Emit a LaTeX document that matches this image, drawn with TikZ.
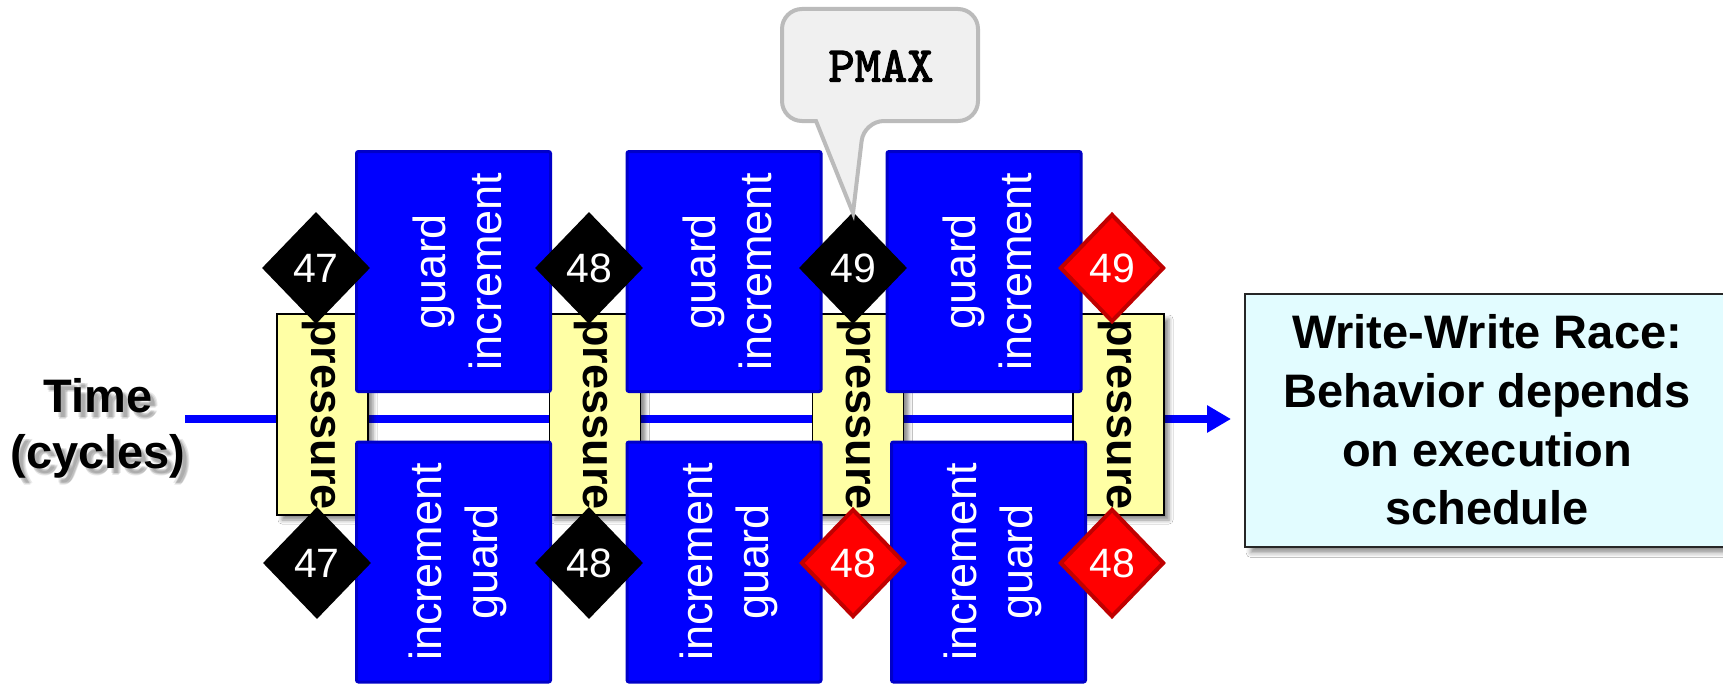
\documentclass[tikz,border=0pt]{standalone}
\usepackage{fontspec}
\setmainfont{Liberation Sans}
\newfontfamily\pmaxfont{lmmono10-regular.otf}[FakeBold=2.5]
\usetikzlibrary{shapes.geometric,arrows.meta,shadows.blur}
\definecolor{pyellow}{RGB}{255,255,165}
\definecolor{bfill}{RGB}{0,0,255}
\definecolor{bborder}{RGB}{0,0,200}
\definecolor{rfill}{RGB}{255,0,0}
\definecolor{rborder}{RGB}{192,0,0}
\definecolor{cfill}{RGB}{240,240,240}
\definecolor{cborder}{RGB}{187,187,187}
\definecolor{racefill}{RGB}{226,252,255}
\begin{document}
\begin{tikzpicture}[x=1pt,y=-1pt,
  tline/.style={draw=bfill, line width=8pt, -{Triangle[length=24pt,width=26pt]}},
  pbox/.style={draw=black, line width=1.5pt, fill=pyellow, inner sep=0pt,
    minimum width=91pt, minimum height=201pt,
    blur shadow={shadow xshift=5pt, shadow yshift=-5pt, shadow blur radius=4pt, shadow opacity=45}},
  ptext/.style={rotate=-90, anchor=base, inner sep=0pt, font=\fontsize{45}{54}\selectfont\bfseries},
  bbox/.style={draw=bborder, line width=3pt, fill=bfill, rounded corners=2pt, inner sep=0pt,
    minimum width=194pt},
  btext/.style={rotate=90, align=center, inner sep=0pt, text=white, font=\fontsize{45}{56}\selectfont},
  dia/.style={diamond, fill=black, inner sep=0pt, minimum width=108pt, minimum height=112pt,
    text=white, font=\fontsize{41}{48}\selectfont},
  rdia/.style={dia, fill=rfill, draw=rborder, line width=4pt, minimum width=104pt, minimum height=108pt},
  callout/.style={draw=cborder, line width=4pt, fill=cfill},
  race/.style={draw=black!85, line width=2pt, fill=racefill, align=center, inner sep=0pt,
    minimum width=484pt, minimum height=253pt, font=\fontsize{47}{58.7}\selectfont\bfseries,
    blur shadow={shadow xshift=6pt, shadow yshift=-6pt, shadow blur radius=5pt, shadow opacity=45}},
  timetext/.style={align=center, inner sep=0pt, font=\fontsize{47}{56}\selectfont\bfseries}
]
\useasboundingbox (0,0) rectangle (1723,685);
\fill[white] (0,0) rectangle (1723,685);

% time line
\coordinate (tstart) at (185,419);
\coordinate (tend) at (1231,419);
\draw[tline] (tstart) -- (tend);

% time label with soft shadow
\foreach \dx/\dy in {4/5,6/6,5/7,7/5}{
  \node[timetext, text=black, opacity=0.09] at (98+\dx,428+\dy) {Time\\(cycles)};
}
\node[timetext] (time) at (98,428) {Time\\(cycles)};

% pressure boxes
\node[pbox] (p1) at (322.5,414.5) {};
\node[pbox] (p2) at (595,414.5) {};
\node[pbox] (p3) at (858,414.5) {};
\node[pbox] (p4) at (1118.5,414.5) {};
\node[ptext] (p1t) at (311,414.5) {pressure};
\node[ptext] (p2t) at (583.5,414.5) {pressure};
\node[ptext] (p3t) at (846.5,414.5) {pressure};
\node[ptext] (p4t) at (1107,414.5) {pressure};

% top blue boxes
\node[bbox, minimum height=240pt] (t1) at (453.5,271.5) {};
\node[bbox, minimum height=240pt] (t2) at (724,271.5) {};
\node[bbox, minimum height=240pt] (t3) at (984,271.5) {};
\node[btext] (t1t) at (457,271.5) {guard\\increment};
\node[btext] (t2t) at (727.5,271.5) {guard\\increment};
\node[btext] (t3t) at (987.5,271.5) {guard\\increment};

% bottom blue boxes
\node[bbox, minimum height=240pt] (b1) at (453.5,562) {};
\node[bbox, minimum height=240pt] (b2) at (724,562) {};
\node[bbox, minimum height=240pt] (b3) at (988.5,562) {};
\node[btext] (b1t) at (458,562) {increment\\guard};
\node[btext] (b2t) at (728.5,562) {increment\\guard};
\node[btext] (b3t) at (993,562) {increment\\guard};

% diamonds
\node[dia] (d1) at (316,268) {47};
\node[dia] (d2) at (589,268) {48};
\node[dia] (d3) at (853,268) {49};
\node[rdia] (d4) at (1112,268) {49};
\node[dia] (e1) at (317,563) {47};
\node[dia] (e2) at (589,563) {48};
\node[rdia] (e3) at (853,563) {48};
\node[rdia] (e4) at (1112,563) {48};

% callout
\draw[callout] (853,213) -- (816,121) [rounded corners=20pt] -- (782,121) -- (782,9) -- (978,9) -- (978,121) -- (864,121) [sharp corners] -- cycle;
\node[font=\fontsize{50}{56}\selectfont\pmaxfont] (pmax) at (881,66) {PMAX};

% result box
\node[race] (res) at (1487,420) {Write-Write Race:\\Behavior depends\\on execution\\schedule};
\end{tikzpicture}
\end{document}
